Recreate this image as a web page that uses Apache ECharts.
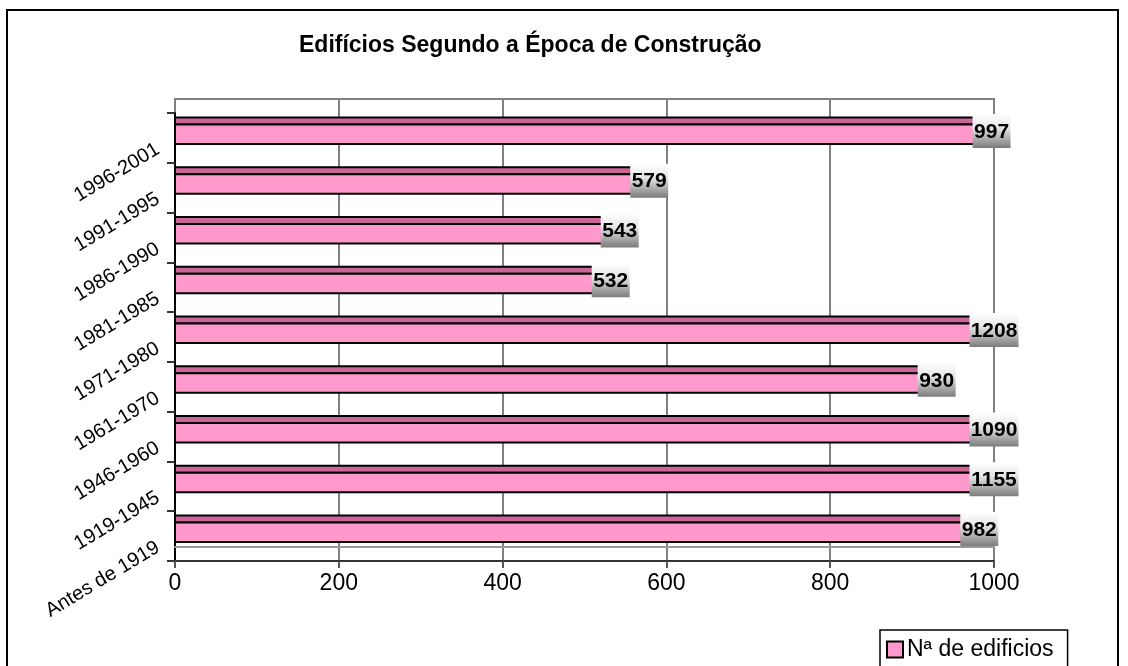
<!DOCTYPE html>
<html>
<head>
<meta charset="utf-8">
<script src="https://cdn.jsdelivr.net/npm/echarts@6/dist/echarts.min.js"></script>
<style>
    html, body { margin: 0; padding: 0; background: #fff; }
    #chart { width: 1128px; height: 666px; }
</style>
</head>
<body>
<div id="chart"></div>
<script>
    // dados (de baixo para cima no eixo)
    var categorias = ['Antes de 1919', '1919-1945', '1946-1960', '1961-1970', '1971-1980',
        '1981-1985', '1986-1990', '1991-1995', '1996-2001'];
    var edificios = [982, 1155, 1090, 930, 1208, 532, 543, 579, 997];
    var xTicks = [0, 200, 400, 600, 800, 1000];
    var nomeSerie = 'Nª de edificios';

    var fonte = '"Liberation Sans", Arial, sans-serif';
    var xMin = xTicks[0], xMax = xTicks[xTicks.length - 1];

    var myChart = echarts.init(document.getElementById('chart'));

    // barra "3D" + caixa do rótulo
    function desenhaBarra(params, api) {
        var v = api.value(0);
        var cat = api.value(1);
        var ini = api.coord([xMin, cat]);
        var fim = api.coord([Math.min(v, xMax), cat]);
        var cy = ini[1];
        var txt = String(v);
        var w = 5 + 11 * txt.length;
        return {
            type: 'group',
            children: [
                {
                    type: 'rect',
                    shape: { x: ini[0], y: cy - 13.5, width: fim[0] - ini[0], height: 7 },
                    style: { fill: '#CC6699', stroke: '#000', lineWidth: 2 }
                },
                {
                    type: 'rect',
                    shape: { x: ini[0], y: cy - 6.5, width: fim[0] - ini[0], height: 19.5 },
                    style: { fill: '#FF99CC', stroke: '#000', lineWidth: 2 }
                },
                {
                    type: 'rect',
                    shape: { x: fim[0] - w / 2, y: cy - 17, width: w, height: 34 },
                    style: {
                        fill: new echarts.graphic.LinearGradient(0, 0, 0, 1, [
                            { offset: 0, color: '#ffffff' },
                            { offset: 0.4, color: '#e6e6e6' },
                            { offset: 1, color: '#7c7c7c' }
                        ])
                    }
                },
                {
                    type: 'text',
                    style: {
                        text: txt, x: fim[0], y: cy + 1,
                        align: 'center', verticalAlign: 'middle',
                        font: 'bold 21px ' + fonte, fill: '#000'
                    }
                }
            ]
        };
    }

    var escondido = { show: false };
    var option = {
        animation: false,
        textStyle: { fontFamily: fonte },
        title: {
            text: 'Edifícios Segundo a Época de Construção',
            left: 294, top: 29,
            textStyle: { fontSize: 23, fontWeight: 'bold', color: '#000', fontFamily: fonte }
        },
        legend: {
            left: 880, top: 630,
            padding: [8, 14, 12, 6],
            borderColor: '#000', borderWidth: 1.5,
            itemWidth: 16, itemHeight: 16,
            textStyle: { fontSize: 23, color: '#000', fontFamily: fonte, padding: [0, 0, 0, -1] },
            data: [{ name: nomeSerie, icon: 'rect',
                itemStyle: { color: '#FF99CC', borderColor: '#000', borderWidth: 2 } }]
        },
        graphic: [{
            type: 'rect', silent: true,
            shape: { x: 7, y: 10, width: 1111, height: 700 },
            style: { fill: 'none', stroke: '#000', lineWidth: 2 }
        }],
        grid: [
            // parede / grelha
            { left: 175, right: 134, top: 99, bottom: 105, show: true, borderColor: '#808080', borderWidth: 2 },
            // eixo das categorias (marcas)
            { left: 175, right: 134, top: 113, bottom: 105 },
            // rótulos das categorias
            { left: 175, right: 134, top: 123, bottom: 95 },
            // barras
            { left: 175, right: 134, top: 106, bottom: 112 },
            // aresta do chão
            { left: 175, right: 134, top: 99, bottom: 119 }
        ],
        xAxis: [
            {
                gridIndex: 0, type: 'value', min: xMin, max: xMax, interval: 200,
                axisLine: { show: true, lineStyle: { color: '#333', width: 2 } },
                axisTick: { show: true, length: 7, lineStyle: { color: '#555', width: 2 } },
                axisLabel: { fontSize: 23, color: '#000', margin: 11, formatter: function (v) { return String(v); } },
                splitLine: { show: true, lineStyle: { color: '#808080', width: 2 } }
            },
            { gridIndex: 1, type: 'value', min: xMin, max: xMax, show: false },
            { gridIndex: 2, type: 'value', min: xMin, max: xMax, show: false },
            { gridIndex: 3, type: 'value', min: xMin, max: xMax, show: false },
            {
                gridIndex: 4, type: 'value', min: xMin, max: xMax,
                axisLine: { show: true, lineStyle: { color: '#999', width: 2 } },
                axisTick: escondido, axisLabel: escondido, splitLine: escondido
            }
        ],
        yAxis: [
            { gridIndex: 0, type: 'category', data: categorias, show: false },
            {
                gridIndex: 1, type: 'category', data: categorias,
                axisLine: { show: true, lineStyle: { color: '#000', width: 2 } },
                axisTick: { show: true, length: 8, lineStyle: { color: '#333', width: 2 } },
                axisLabel: escondido
            },
            {
                gridIndex: 2, type: 'category', data: categorias,
                axisLine: escondido, axisTick: escondido,
                axisLabel: { rotate: 31, fontSize: 20, color: '#000', margin: 17 }
            },
            { gridIndex: 3, type: 'category', data: categorias, show: false },
            { gridIndex: 4, type: 'category', data: categorias, show: false }
        ],
        series: [{
            name: nomeSerie,
            type: 'custom',
            xAxisIndex: 3, yAxisIndex: 3,
            itemStyle: { color: '#FF99CC' },
            renderItem: desenhaBarra,
            encode: { x: 0, y: 1 },
            data: edificios.map(function (v, i) { return [v, categorias[i]]; })
        }]
    };

    myChart.setOption(option);
</script>
</body>
</html>
